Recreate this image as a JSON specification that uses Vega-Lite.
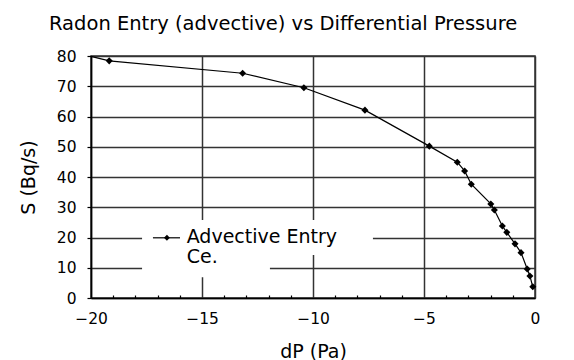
{
  "$schema": "https://vega.github.io/schema/vega-lite/v6.json",
  "width": 444,
  "height": 242,
  "autosize": "none",
  "padding": {"left": 91, "top": 56, "right": 39, "bottom": 62},
  "background": "white",
  "config": {
    "font": "DejaVu Sans",
    "view": {"stroke": "#333", "strokeWidth": 1.5},
    "axis": {"labelColor": "black", "titleColor": "black", "titleFontWeight": "normal", "domainColor": "black", "domainWidth": 1.5, "gridColor": "#333", "gridWidth": 1.5, "tickColor": "black"}
  },
  "title": {"text": "Radon Entry (advective) vs Differential Pressure", "anchor": "start", "frame": "group", "dx": -42, "offset": 0, "baseline": "alphabetic", "fontSize": 19.5, "fontWeight": "normal", "color": "black", "font": "DejaVu Sans"},
  "datasets": {
    "curve": [
      {"x": -20.0, "y": 79.9},
      {"x": -19.18, "y": 78.4},
      {"x": -13.17, "y": 74.3},
      {"x": -10.41, "y": 69.5},
      {"x": -7.66, "y": 62.1},
      {"x": -4.76, "y": 50.2},
      {"x": -3.5, "y": 44.9},
      {"x": -3.17, "y": 42.0},
      {"x": -2.87, "y": 37.6},
      {"x": -1.99, "y": 31.1},
      {"x": -1.83, "y": 29.1},
      {"x": -1.47, "y": 23.8},
      {"x": -1.27, "y": 21.7},
      {"x": -0.9, "y": 17.9},
      {"x": -0.63, "y": 15.0},
      {"x": -0.35, "y": 9.6},
      {"x": -0.23, "y": 7.3},
      {"x": -0.1, "y": 3.7}
    ],
    "legendBox": [
      {"x": -17.7, "x2": -7.3, "y": 14.2, "y2": 25.8},
      {"x": -17.7, "x2": -11.94, "y": 6.9, "y2": 14.2}
    ],
    "legendLine": [{"x": -17.21, "x2": -15.99, "y": 19.9}],
    "legendMarker": [{"x": -16.58, "y": 19.9}],
    "legendText": [
      {"x": -15.69, "y": 18.2, "t": "Advective Entry"},
      {"x": -15.69, "y": 11.6, "t": "Ce."}
    ]
  },
  "encoding": {
    "x": {"field": "x", "type": "quantitative",
      "scale": {"domain": [-20, 0], "nice": false, "zero": false},
      "axis": {
        "title": "dP (Pa)",
        "titleFontSize": 19,
        "titleY": 59,
        "titleBaseline": "alphabetic",
        "values": [-20, -19, -18, -17, -16, -15, -14, -13, -12, -11, -10, -9, -8, -7, -6, -5, -4, -3, -2, -1, 0],
        "labelExpr": "datum.value % 5 === 0 ? format(datum.value, 'd') : ''",
        "labelFontSize": 15.5,
        "labelPadding": 13,
        "tickSize": {"condition": {"test": "datum.value % 5 === 0", "value": 0}, "value": -3},
        "tickWidth": 1.2,
        "gridOpacity": {"condition": {"test": "datum.value % 5 === 0", "value": 1}, "value": 0},
        "labelFlush": false
      }},
    "y": {"field": "y", "type": "quantitative",
      "scale": {"domain": [0, 80], "nice": false},
      "axis": {
        "title": "S (Bq/s)",
        "titleFontSize": 19,
        "titleX": -57,
        "titleY": 121,
        "titleBaseline": "alphabetic",
        "titleAlign": "center",
        "titleAngle": -90,
        "values": [0, 10, 20, 30, 40, 50, 60, 70, 80],
        "labelFontSize": 15.5,
        "tickSize": 4,
        "tickWidth": 1.2,
        "labelPadding": 11,
        "labelFlush": false
      }}
  },
  "layer": [
    {
      "data": {"name": "legendBox"},
      "mark": {"type": "rect", "fill": "white", "stroke": null},
      "encoding": {
        "x2": {"field": "x2"},
        "y2": {"field": "y2"}
      }
    },
    {
      "data": {"name": "curve"},
      "mark": {"type": "line", "color": "black", "strokeWidth": 1.2}
    },
    {
      "data": {"name": "curve"},
      "transform": [{"filter": "datum.x > -20"}],
      "mark": {"type": "point", "shape": "diamond", "filled": true, "color": "black", "size": 50, "opacity": 1}
    },
    {
      "data": {"name": "legendLine"},
      "mark": {"type": "rule", "color": "black", "strokeWidth": 1.2},
      "encoding": {
        "x2": {"field": "x2"}
      }
    },
    {
      "data": {"name": "legendMarker"},
      "mark": {"type": "point", "shape": "diamond", "filled": true, "color": "black", "size": 35, "opacity": 1}
    },
    {
      "data": {"name": "legendText"},
      "mark": {"type": "text", "align": "left", "baseline": "alphabetic", "fontSize": 19, "font": "DejaVu Sans", "color": "black"},
      "encoding": {
        "text": {"field": "t"}
      }
    }
  ]
}
